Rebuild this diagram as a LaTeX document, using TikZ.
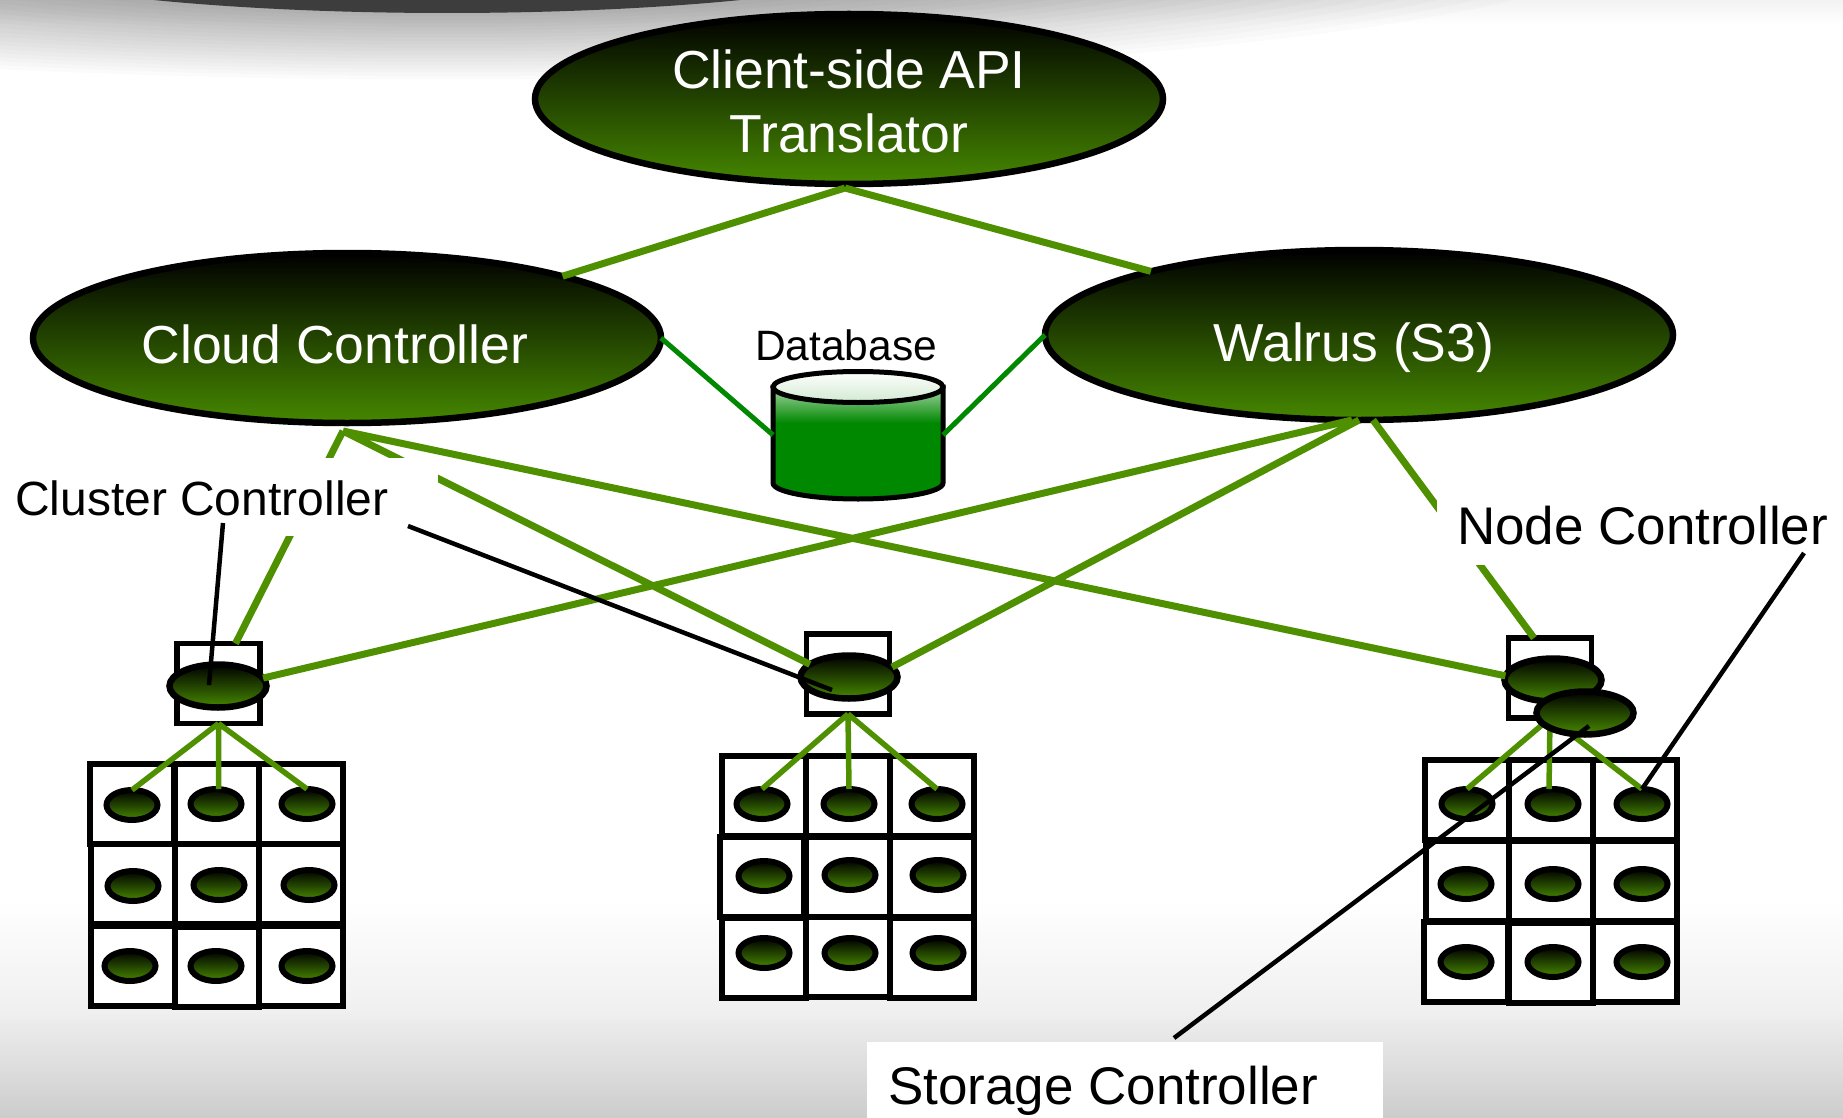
\documentclass[tikz,border=0pt]{standalone}
\usepackage{fontspec}
\setmainfont{Liberation Sans}
\usetikzlibrary{shapes.geometric}
\definecolor{nodegreen}{HTML}{468800}
\definecolor{linegreen}{HTML}{4F9000}
\definecolor{dbgreen}{HTML}{008800}
\pgfdeclareverticalshading{dbshade}{100bp}{color(0bp)=(dbgreen); color(59bp)=(dbgreen); color(75bp)=(dbgreen!35); color(100bp)=(dbgreen!35)}
\tikzstyle{bignode}=[ellipse, draw, line width=6.5pt, top color=black, bottom color=nodegreen, inner sep=0pt, outer sep=0pt, minimum width=628pt, minimum height=170pt, text=white, align=center, font=\fontsize{53.5}{64}\selectfont]
\tikzstyle{ctrl}=[ellipse, draw, line width=6.5pt, top color=black, bottom color=nodegreen, inner sep=0pt, outer sep=0pt, minimum width=97pt, minimum height=43pt]
\tikzstyle{node}=[ellipse, draw, line width=6pt, top color=black, bottom color=nodegreen, inner sep=0pt, outer sep=0pt, minimum width=51pt, minimum height=30pt]
\tikzstyle{box}=[rectangle, draw, fill=white, line width=5.5pt, inner sep=0pt, outer sep=0pt, minimum width=83pt, minimum height=80pt]
\tikzstyle{whitelabel}=[fill=white, inner ysep=0pt, outer sep=0pt, align=flush left, font=\fontsize{53}{64}\selectfont]
\tikzstyle{thick link}=[linegreen, line width=7pt]
\tikzstyle{child link}=[linegreen, line width=5.5pt]
\tikzstyle{db link}=[dbgreen, line width=5pt]
\tikzstyle{leader}=[black, line width=4.5pt]
\newcommand{\lowered}[2]{\raisebox{-#1pt}[0pt][0pt]{#2}}
\begin{document}
\begin{tikzpicture}[x=1pt, y=-1pt]
    \useasboundingbox (0,0) rectangle (1843,1118);
    % page
    \fill[white] (0,0) rectangle (1843,1118);
    \shade[top color=white, bottom color=black!6] (0,900) rectangle (1843,1010);
    \shade[top color=black!6, bottom color=black!20] (0,1010) rectangle (1843,1118);
    \shade[top color=black!5, bottom color=white] (0,0) rectangle (1843,24);
    \foreach \k in {0,...,19}
        \fill[black, opacity=.016] (447,-60) ellipse ({515+\k*35} and {73+\k*3.5});
    \fill[black!76] (447,-60) ellipse (515 and 73);
    % top row
    \node[bignode] (api) at (849,99) {\rule{0pt}{43pt}Client-side API\\Translator};
    \node[bignode] (cloud) at (347,338) {\lowered{25}{Cloud Controller}\hspace{24pt}};
    \node[bignode] (walrus) at (1359,335) {\lowered{26}{Walrus (S3)}\hspace{10pt}};
    % database
    \node[minimum width=170pt, minimum height=96pt, inner sep=0pt, outer sep=0pt] (db) at (858,435) {};
    \shade[shading=dbshade, draw, line width=5pt] (db.north west) -- (db.south west) arc (180:0:85 and 16) -- (db.north east) -- cycle;
    \node[ellipse, draw, line width=5pt, top color=white, bottom color=dbgreen!18, inner sep=0pt, outer sep=0pt, minimum width=170pt, minimum height=31pt] (dbtop) at (858,387) {};
    \node[font=\fontsize{42.5}{50}\selectfont] (dblabel) at (846,345) {Database};
    % clusters
    \node[box] (cbox1) at (218.5,683.5) {};
    \node[box] (cbox2) at (848,674) {};
    \node[box] (cbox3) at (1550,678) {};
    % cells of each cluster
    \foreach \nm/\bx/\by/\ex/\ey in {
        a1/132/804/132/805, a2/217/804/216/804, a3/301/804/307/804,
        a4/133/884/133/886, a5/217/884/219/885, a6/301/884/309/885,
        a7/133/966/130/966, a8/217/967/216/966, a9/301/966/307/966,
        b1/764/796/762/804, b2/848/796/849/804, b3/932/796/937/804,
        b4/762/877/764/876, b5/848/877/850/875, b6/932/877/938/875,
        b7/764/958/764/953, b8/848/957/850/953, b9/932/958/938/953,
        c1/1467/800/1467/804, c2/1551/800/1553/804, c3/1635/800/1642/804,
        c4/1468/881/1466/884, c5/1551/881/1553/884, c6/1635/881/1642/884,
        c7/1466/962/1466/962, c8/1551/963/1553/962, c9/1635/962/1642/962}{
        \node[box, minimum width=84pt] (box\nm) at (\bx,\by) {};
        \node[node] (cell\nm) at (\ex,\ey) {};
    }
    \node[ctrl] (cc1) at (218,686) {};
    \node[ctrl] (cc2) at (849,677) {};
    \node[ctrl] (cc3) at (1553,680) {};
    % links
    \coordinate (apifoot) at (845,188);
    \coordinate (cloudfoot) at (343,431);
    \draw[thick link]
        (apifoot) -- (cloud.16)
        (apifoot) -- (walrus.163)
        (cloudfoot) -- ([xshift=17pt]cbox1.north)
        (cloudfoot) -- (cc2.162)
        (cloudfoot) -- (cc3.175)
        ([xshift=-7pt]walrus.south) -- (cc1.10)
        (walrus.south) -- (cc2.13)
        ([xshift=14pt]walrus.south) -- ([xshift=-16pt]cbox3.north)
    ;
    \draw[db link]
        (cloud.east) -- (db.west)
        (walrus.west) -- (db.east)
    ;
    \draw[child link]
        (cbox1.south) -- (cella1.north)
        (cbox1.south) -- ([xshift=2.5pt]cella2.north)
        (cbox1.south) -- (cella3.north)
        (cbox2.south) -- (cellb1.north)
        (cbox2.south) -- (cellb2.north)
        (cbox2.south) -- (cellb3.north)
        (cbox3.south) -- (cellc1.north)
        (cbox3.south) -- ([xshift=-4pt]cellc2.north)
        (cbox3.south) -- (cellc3.north)
    ;
    \node[ctrl] (sc) at (1585,713) {};
    % labels
    \node[whitelabel, font=\fontsize{48}{58}\selectfont, anchor=north west, inner xsep=15pt, text width=408pt, minimum height=78pt] (cclabel) at (0,458) {\lowered{18}{Cluster Controller}};
    \node[whitelabel, anchor=north west, inner xsep=20pt, text width=366pt, minimum height=80pt] (nclabel) at (1437,485) {\lowered{19}{Node Controller}};
    \node[whitelabel, anchor=north west, inner xsep=21pt, text width=474pt, minimum height=76pt] (sclabel) at (867,1042) {\lowered{24}{Storage Controller}};
    % leaders
    \coordinate (ccfrom) at (223,523);
    \coordinate (ccto) at (209,685);
    \coordinate (cctwofrom) at (408,526);
    \coordinate (cctwoto) at (832,690);
    \coordinate (ncfrom) at (1804,553);
    \coordinate (scfrom) at (1174,1038);
    \coordinate (scto) at (1589,726);
    \draw[leader]
        (ccfrom) -- (ccto)
        (cctwofrom) -- (cctwoto)
        (ncfrom) -- (cellc3.north)
        (scfrom) -- (scto)
    ;
\end{tikzpicture}
\end{document}
